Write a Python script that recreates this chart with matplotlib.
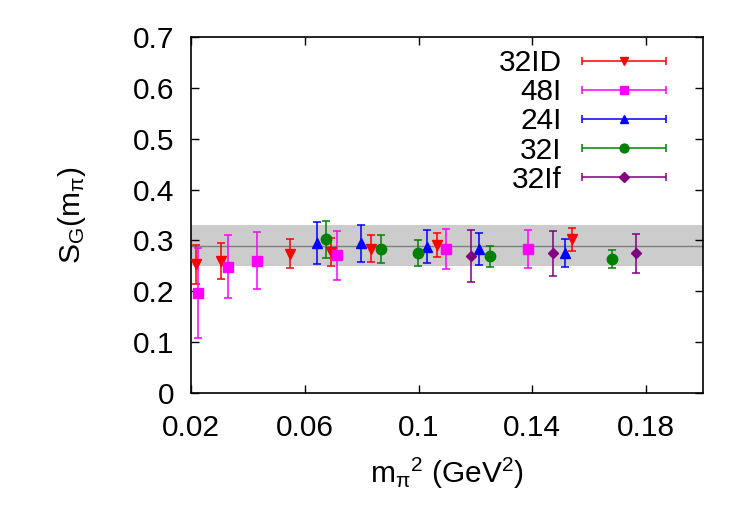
import numpy as np
import matplotlib
matplotlib.use("Agg")
import matplotlib.pyplot as plt
from matplotlib.container import ErrorbarContainer
from matplotlib.legend_handler import HandlerErrorbar

plt.rcParams['font.family'] = ['Liberation Sans', 'DejaVu Sans']
plt.rcParams['mathtext.fontset'] = 'custom'
plt.rcParams['mathtext.rm'] = 'Liberation Sans'
plt.rcParams['mathtext.it'] = 'Liberation Sans'
plt.rcParams['mathtext.default'] = 'rm'

# ---- data ----
x_32ID = [0.0218, 0.0305, 0.0548, 0.0691, 0.0832, 0.1066, 0.1539]
y_32ID = [0.253, 0.259, 0.274, 0.2775, 0.284, 0.2905, 0.302]
e_32ID = [0.038, 0.035, 0.029, 0.027, 0.026, 0.024, 0.022]

x_48I = [0.0224, 0.0331, 0.0431, 0.0714, 0.1096, 0.1385]
y_48I = [0.197, 0.248, 0.260, 0.271, 0.283, 0.2835]
e_48I = [0.089, 0.062, 0.056, 0.048, 0.040, 0.037]

x_24I = [0.0642, 0.0796, 0.1031, 0.1211, 0.1516]
y_24I = [0.295, 0.294, 0.288, 0.283, 0.2755]
e_24I = [0.041, 0.037, 0.033, 0.031, 0.028]

x_32I = [0.0675, 0.0869, 0.0998, 0.125, 0.1679]
y_32I = [0.302, 0.283, 0.2755, 0.2685, 0.2635]
e_32I = [0.037, 0.028, 0.025, 0.020, 0.017]

x_32If = [0.1185, 0.1474, 0.1764]
y_32If = [0.269, 0.2745, 0.2745]
e_32If = [0.051, 0.044, 0.039]

band_center = 0.29
band_halfwidth = 0.04

labels = ['32ID', '48I', '24I', '32I', '32If']
xticks = [0.02, 0.06, 0.1, 0.14, 0.18]
xtick_labels = ['0.02', '0.06', '0.1', '0.14', '0.18']
yticks = [0, 0.1, 0.2, 0.3, 0.4, 0.5, 0.6, 0.7]
ytick_labels = ['0', '0.1', '0.2', '0.3', '0.4', '0.5', '0.6', '0.7']

series = [
    (x_32ID, y_32ID, e_32ID, 'v', '#ff0000', 7.5),
    (x_48I, y_48I, e_48I, 's', '#ff00ff', 7.5),
    (x_24I, y_24I, e_24I, '^', '#0000ff', 7.5),
    (x_32I, y_32I, e_32I, 'o', '#008000', 7.5),
    (x_32If, y_32If, e_32If, 'D', '#800080', 5.5),
]

fig = plt.figure(figsize=(7.5, 5.25), dpi=100)
ax = fig.add_axes([191/750, (525-393)/525, (703-191)/750, (393-37)/525])

ax.axhspan(band_center - band_halfwidth, band_center + band_halfwidth,
           color='#cccccc', lw=0, zorder=0)
ax.axhline(band_center, color='#7f7f7f', lw=1.0, zorder=1)

handles = []
for (xs, ys, es, m, c, ms), lab in zip(series, labels):
    ax.errorbar(xs, ys, yerr=es, fmt=m, color=c, ms=ms, capsize=3,
                elinewidth=1.1, capthick=1.1, zorder=3)
    h = ax.errorbar([np.nan], [np.nan], xerr=[1], fmt=m, color=c,
                    ms=ms*0.85, capsize=3, elinewidth=1.1, capthick=1.1,
                    label=lab)
    handles.append(h)

ax.set_xlim(0.02, 0.20)
ax.set_ylim(0, 0.7)
ax.set_xticks(xticks)
ax.set_xticklabels(xtick_labels)
ax.set_yticks(yticks)
ax.set_yticklabels(ytick_labels)
ax.tick_params(direction='in', length=6, width=1, labelsize=21.5,
               top=True, right=True)
ax.tick_params(axis='x', pad=15)
ax.tick_params(axis='y', pad=12)
for s in ax.spines.values():
    s.set_linewidth(1.2)

ax.set_xlabel(r'm$_\pi{}^2$ (GeV$^2$)', fontsize=21.5, labelpad=10)
ax.set_ylabel(r'S$_G$(m$_\pi$)', fontsize=21.5, labelpad=32)

leg = ax.legend(handles=handles, labels=labels, loc='upper right',
                bbox_to_anchor=(666/750, (525-49)/525),
                bbox_transform=fig.transFigure,
                frameon=False, markerfirst=False, fontsize=21.5,
                handlelength=2.8, handletextpad=0.7, labelspacing=0.04,
                borderpad=0, borderaxespad=0,
                handler_map={ErrorbarContainer: HandlerErrorbar(xerr_size=1.4)})

fig.savefig('out.png', dpi=100)
